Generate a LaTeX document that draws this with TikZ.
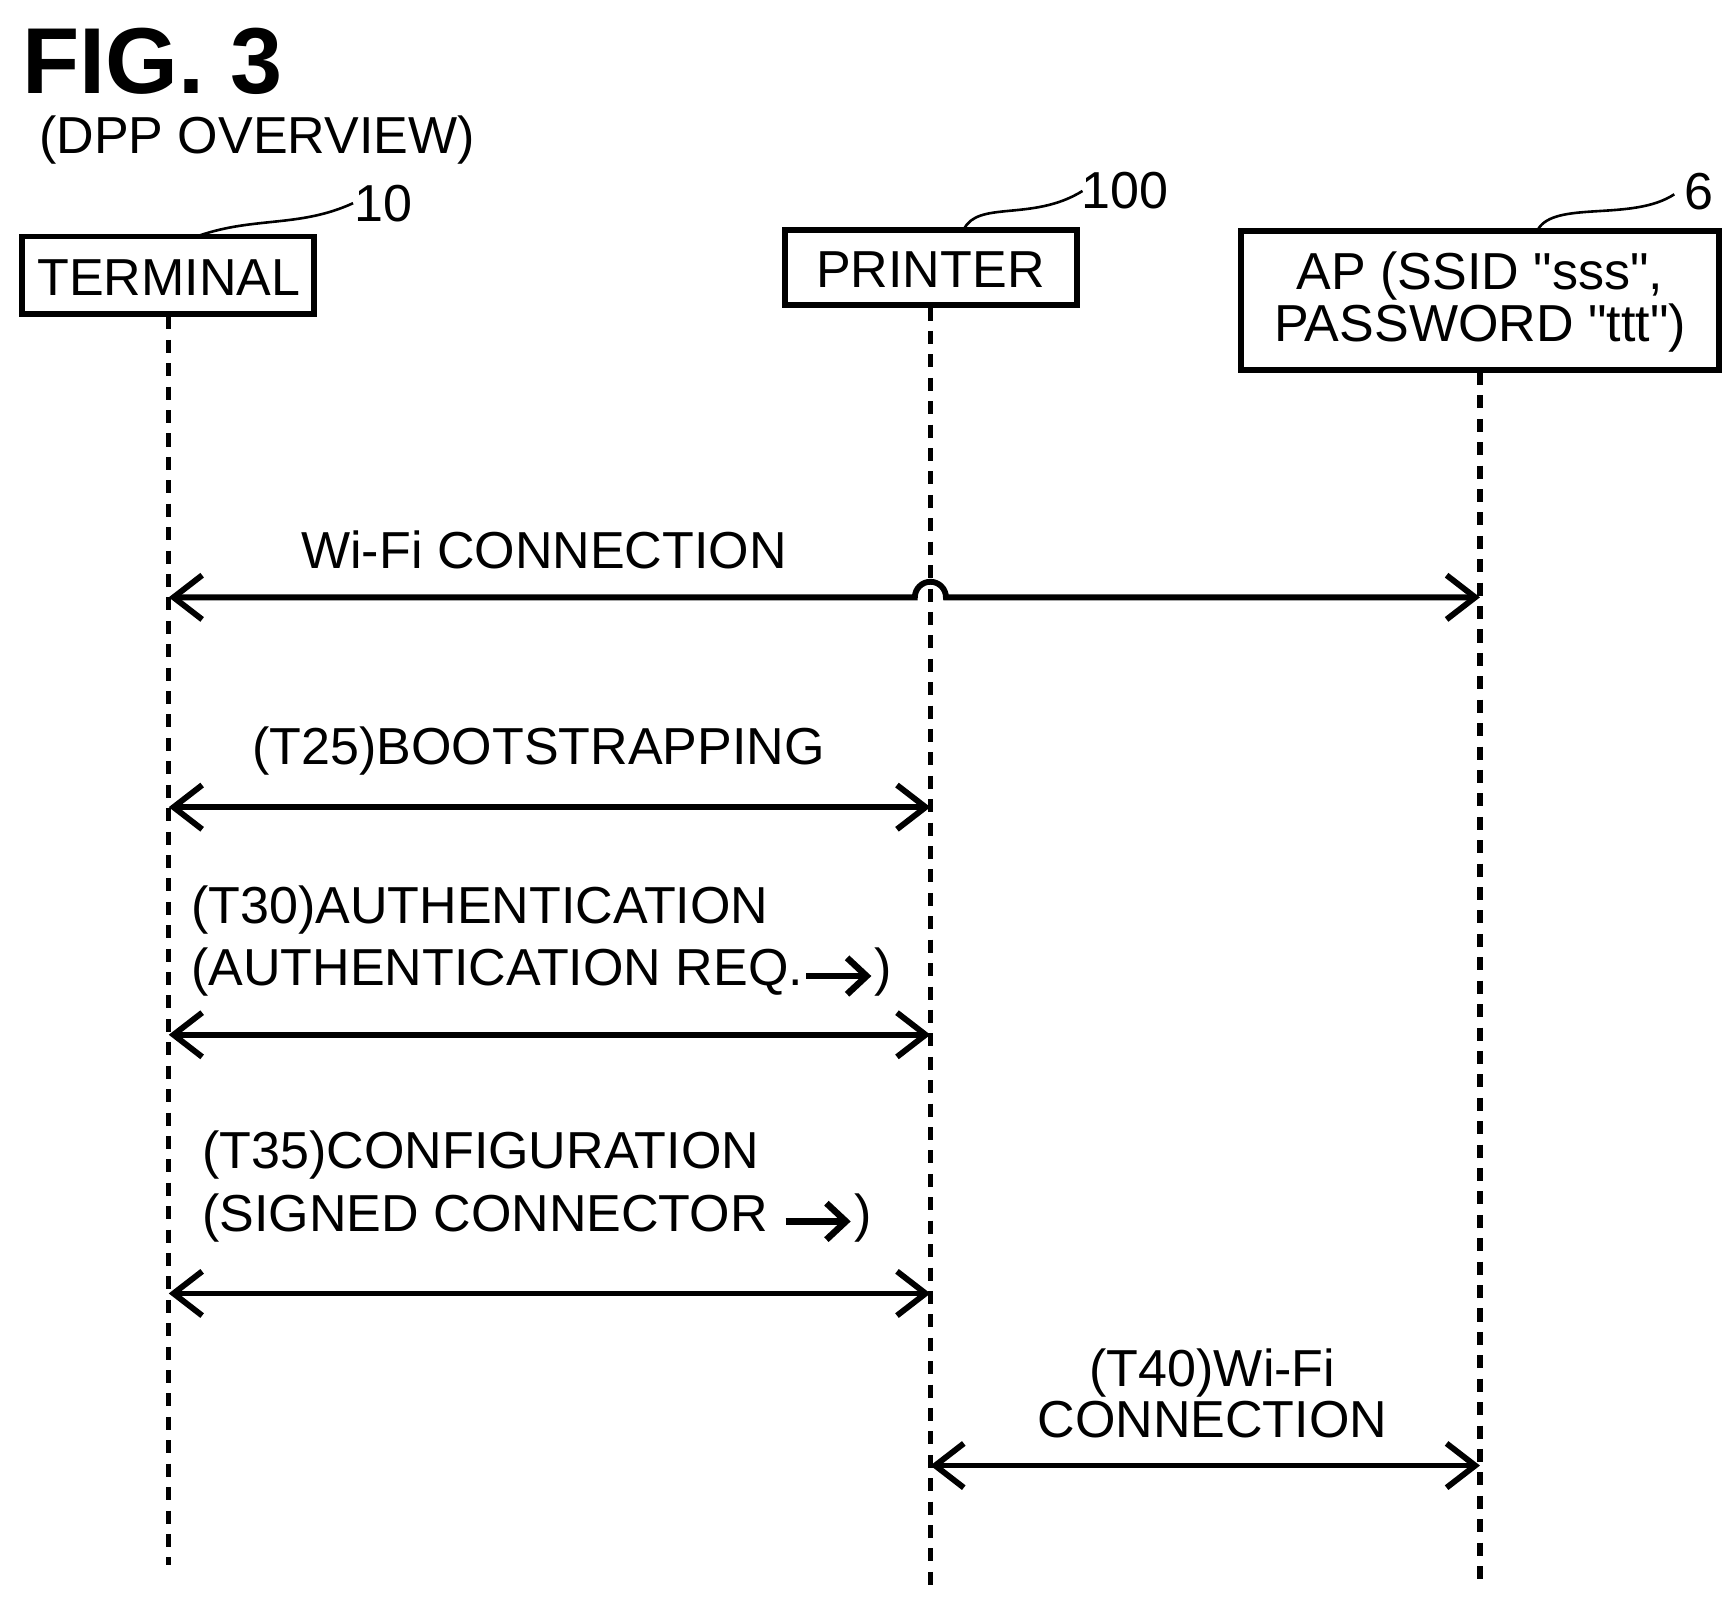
\documentclass[tikz,border=0pt]{standalone}
\usepackage{fontspec}
\setmainfont{Liberation Sans}
\newfontfamily\qf{Liberation Sans}
\usetikzlibrary{arrows.meta}
\begin{document}
\begin{tikzpicture}[x=0.03cm,y=-0.03cm,
  lbl/.style={font=\fontsize{40}{46}\selectfont,inner sep=0pt},
  box/.style={draw,line width=4.5pt,inner sep=0pt},
  life/.style={line width=4pt,dash pattern=on 10pt off 8pt},
  msg/.style={line width=4.5pt,{Straight Barb[length=22pt,width=34pt,line width=4.5pt]}-{Straight Barb[length=22pt,width=34pt,line width=4.5pt]}},
  sq/.style={line width=2pt}]
\useasboundingbox (0,0) rectangle (1560,1446);
\newcommand{\inarr}{\tikz[baseline=-0.35ex,x=1pt,y=1pt]\draw[line width=5pt,-{Straight Barb[length=15pt,width=28pt,line width=5pt]}] (0,0)--(50,0);}
\newcommand{\q}{{\qf"}}
\node[font=\bfseries\fontsize{72}{80}\selectfont,inner sep=0pt,anchor=west] (fig) at (20,55) {FIG. 3};
\node[lbl,anchor=west] (ov) at (35,126) {(DPP OVERVIEW)};
% boxes
\draw[box] (20,213) rectangle (283,283);
\node[lbl] (term) at (152,250) {TERMINAL};
\draw[box] (707,207) rectangle (970,275);
\node[lbl] (prn) at (838,243) {PRINTER};
\draw[box] (1118,208) rectangle (1548,333);
\node[lbl,align=center,font=\fontsize{40}{40}\selectfont] (ap) at (1333,272) {AP (SSID \q sss\q ,\\PASSWORD \q ttt\q )};
% refs
\node[lbl] (r10) at (345,183) {10};
\node[lbl] (r100) at (1013,172) {100};
\node[lbl] (r6) at (1530,173) {6};
\draw[sq] (180,212) .. controls (230,195) and (270,205) .. (318,183);
\draw[sq] (868,207) .. controls (880,180) and (930,200) .. (975,172);
\draw[sq] (1385,207) .. controls (1400,180) and (1470,200) .. (1508,175);
% lifelines
\coordinate (t0) at (152,285); \coordinate (t1) at (152,1410);
\coordinate (p0) at (838,277); \coordinate (p1) at (838,1430);
\coordinate (a0) at (1333,335); \coordinate (a1) at (1333,1430);
\draw[life] (t0)--(t1); \draw[life] (p0)--(p1); \draw[life] (a0)--(a1);
% messages
\coordinate (w1) at (152,538); \coordinate (w2) at (1333,538);
\draw[msg] (w1) -- (824,538) arc (180:360:14) -- (w2);
\node[lbl] (wl) at (490,495) {Wi-Fi CONNECTION};
\coordinate (b1) at (152,727); \coordinate (b2) at (838,727);
\draw[msg] (b1)--(b2);
\node[lbl] (bl) at (485,676) {(T25)BOOTSTRAPPING};
\coordinate (c1) at (152,932); \coordinate (c2) at (838,932);
\draw[msg] (c1)--(c2);
\node[lbl,anchor=west,align=left,font=\fontsize{40}{48}\selectfont] (cl) at (172,848) {(T30)AUTHENTICATION\\(AUTHENTICATION REQ.\inarr)};
\coordinate (d1) at (152,1165); \coordinate (d2) at (838,1165);
\draw[msg] (d1)--(d2);
\node[lbl,anchor=west,align=left,font=\fontsize{40}{48}\selectfont] (dl) at (182,1069) {(T35)CONFIGURATION\\(SIGNED CONNECTOR \inarr)};
\coordinate (e1) at (838,1320); \coordinate (e2) at (1333,1320);
\draw[msg] (e1)--(e2);
\node[lbl,align=center,font=\fontsize{40}{39}\selectfont] (el) at (1092,1255) {(T40)Wi-Fi\\CONNECTION};
\end{tikzpicture}
\end{document}
